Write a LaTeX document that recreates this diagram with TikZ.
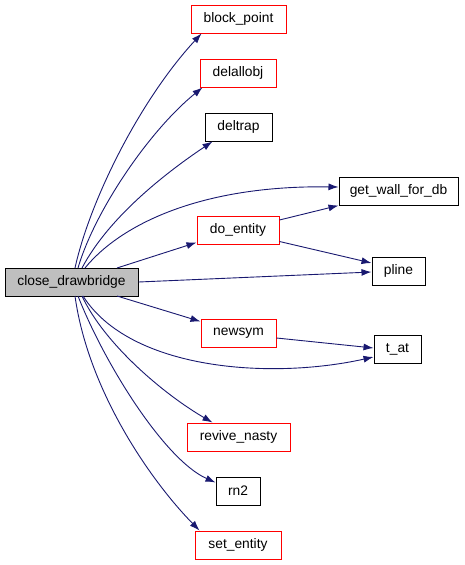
\documentclass[tikz,border=0pt]{standalone}
\usepackage{fontspec}
\setmainfont{Liberation Sans}
\usetikzlibrary{arrows.meta}
\definecolor{edgeblue}{HTML}{191970}
\definecolor{nodegray}{HTML}{BFBFBF}
\definecolor{redborder}{HTML}{FF0000}
\tikzset{
  fn/.style={draw=black, line width=1pt, minimum height=28pt, inner sep=0pt, font=\fontsize{13.8}{15}\selectfont, fill=white},
  rfn/.style={fn, draw=redborder},
  cur/.style={fn, fill=nodegray},
  call/.style={draw=edgeblue, line width=0.9pt, -{Latex[length=10pt,width=7pt]}, fill=none}
}
\begin{document}
\begin{tikzpicture}[x=1pt,y=-1pt]
\useasboundingbox (0,0) rectangle (464,565);
\node[cur, minimum width=133pt] (cd) at (71.5,282) {close\_drawbridge};
\node[rfn, minimum width=95pt] (bp) at (238.5,19) {block\_point};
\node[rfn, minimum width=76pt] (da) at (238,73) {delallobj};
\node[fn, minimum width=67pt] (dt) at (238.5,127) {deltrap};
\node[fn, minimum width=119pt] (gw) at (398.5,191) {get\_wall\_for\_db};
\node[rfn, minimum width=82pt] (de) at (238,230) {do\_entity};
\node[fn, minimum width=53pt] (pl) at (398.5,271) {pline};
\node[rfn, minimum width=75pt] (ns) at (238.5,333) {newsym};
\node[fn, minimum width=47pt] (ta) at (397.5,349) {t\_at};
\node[rfn, minimum width=103pt] (rv) at (238.5,437) {revive\_nasty};
\node[fn, minimum width=44pt] (rn) at (238,491) {rn2};
\node[rfn, minimum width=86pt] (se) at (238,545) {set\_entity};

\coordinate (s1) at (75,268);
\coordinate (s2) at (78,268);
\coordinate (s3) at (82,268);
\coordinate (s4) at (85,268);
\coordinate (s5) at (117,268);
\coordinate (s7) at (117,296);
\coordinate (s8) at (83,296);
\coordinate (s9) at (82,296);
\coordinate (s10) at (78,296);
\coordinate (s11) at (75,296);

\draw[call] (s1) .. controls (90,200) and (140,100) .. ([xshift=11pt]bp.south west);
\draw[call] (s2) .. controls (95,210) and (150,130) .. ([xshift=3pt]da.south west);
\draw[call] (s3) .. controls (110,215) and (170,170) .. ([xshift=8pt]dt.south west);
\draw[call] (s4) .. controls (120,225) and (200,185) .. ([yshift=4pt]gw.west);
\draw[call] (s5) -- ([yshift=2pt]de.south west);
\draw[call] (cd.east) -- ([yshift=-1pt]pl.west);
\draw[call] (s7) -- ([yshift=-3pt]ns.north west);
\draw[call] (s8) .. controls (130,370) and (270,380) .. ([yshift=-8pt]ta.west);
\draw[call] (s9) .. controls (105,345) and (165,395) .. ([xshift=26pt]rv.north west);
\draw[call] (s10) .. controls (105,365) and (165,460) .. ([yshift=-6pt]rn.north west);
\draw[call] (s11) .. controls (88,390) and (150,480) .. ([xshift=5pt]se.north west);
\draw[call] ([yshift=10pt]de.east) -- (gw.south west);
\draw[call] ([yshift=3pt]de.south east) -- ([yshift=8pt]pl.west);
\draw[call] ([yshift=-5pt]ns.east) -- ([yshift=1pt]ta.west);
\end{tikzpicture}
\end{document}
